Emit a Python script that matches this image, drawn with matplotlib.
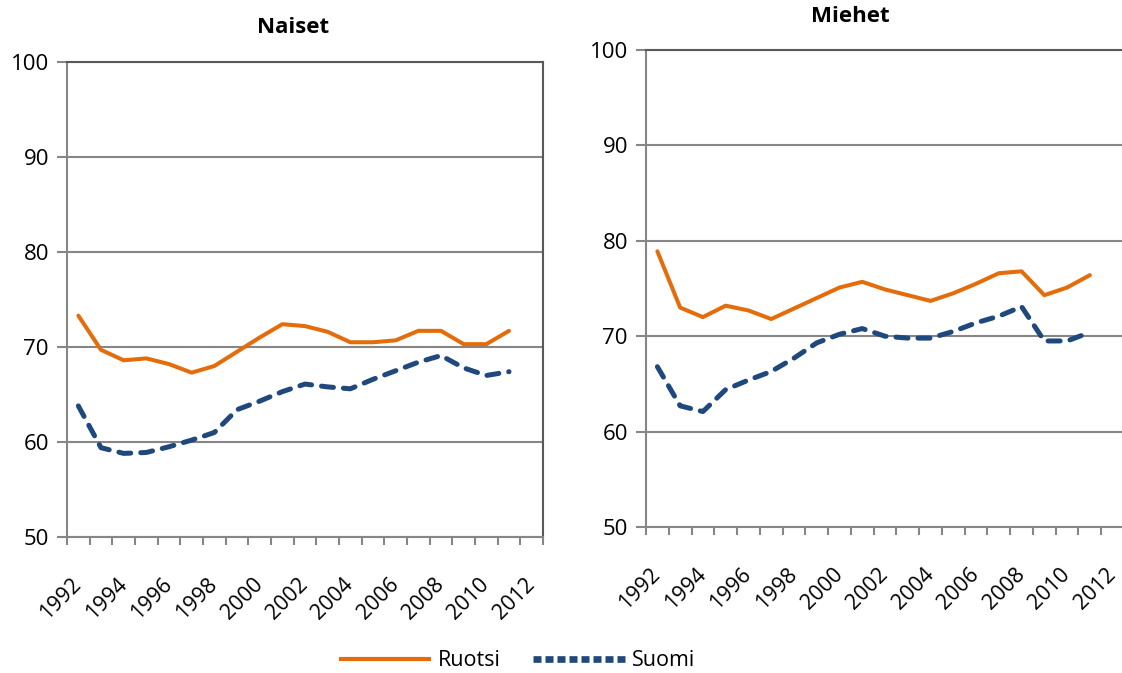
import matplotlib
matplotlib.use("Agg")
import matplotlib.pyplot as plt
from matplotlib.lines import Line2D
from matplotlib.transforms import ScaledTranslation

plt.rcParams["font.family"] = ["Open Sans", "DejaVu Sans"]

years = list(range(1992, 2012))
tick_years = list(range(1992, 2013, 2))

naiset_ruotsi = [73.3, 69.7, 68.6, 68.8, 68.2, 67.3, 68.0, 69.5, 71.0, 72.4,
                 72.2, 71.6, 70.5, 70.5, 70.7, 71.7, 71.7, 70.3, 70.3, 71.7]
naiset_suomi = [63.8, 59.4, 58.8, 58.9, 59.5, 60.2, 61.0, 63.4, 64.3, 65.3,
                66.1, 65.8, 65.6, 66.6, 67.5, 68.4, 69.1, 67.8, 67.0, 67.4]

miehet_ruotsi = [78.9, 73.0, 72.0, 73.2, 72.7, 71.8, 72.9, 74.0, 75.1, 75.7,
                 74.9, 74.3, 73.7, 74.5, 75.5, 76.6, 76.8, 74.3, 75.1, 76.4]
miehet_suomi = [66.8, 62.7, 62.1, 64.4, 65.4, 66.3, 67.7, 69.3, 70.2, 70.8,
                70.0, 69.8, 69.8, 70.5, 71.4, 72.1, 73.1, 69.5, 69.5, 70.4]

ORANGE = "#E46C0A"
BLUE = "#1F497D"
GRID = "#868686"
DARK = "#595959"
W, H = 1122, 673

fig = plt.figure(figsize=(W / 100, H / 100), dpi=100)
shift = ScaledTranslation(8 / 100, 0, fig.dpi_scale_trans)


def panel(box, ruotsi, suomi, right_spine):
    x0, y0, x1, y1 = box
    ax = fig.add_axes([x0 / W, 1 - y1 / H, (x1 - x0) / W, (y1 - y0) / H])
    ax.plot(years, ruotsi, color=ORANGE, lw=2.9, solid_capstyle="round",
            solid_joinstyle="round", zorder=3)
    ax.plot(years, suomi, color=BLUE, lw=3.6, linestyle=(0, (2.4, 2.0)),
            dash_capstyle="round", dash_joinstyle="round", zorder=3)
    ax.set_xlim(1991.5, 2012.5)
    ax.set_ylim(50, 100)
    ax.set_yticks(range(50, 101, 10))
    ax.yaxis.grid(True, color=GRID, lw=1.5)
    ax.set_axisbelow(True)
    # category borders get tick marks, every second category gets a label
    ax.set_xticks([y - 0.5 for y in range(1992, 2014)])
    ax.set_xticklabels([])
    ax.set_xticks(tick_years, minor=True)
    labels = ax.set_xticklabels([str(y) for y in tick_years], minor=True,
                                rotation=45, ha="right", va="center",
                                rotation_mode="anchor")
    for lab in labels:
        lab.set_transform(lab.get_transform() + shift)
    ax.tick_params(axis="x", which="major", length=6, width=1.5,
                   color=GRID, direction="out")
    ax.tick_params(axis="x", which="minor", length=0, pad=32, labelsize=15.5)
    ax.tick_params(axis="y", length=7, width=1.5, color=GRID, labelsize=16,
                   pad=6)
    for s in ("left", "bottom"):
        ax.spines[s].set_color(GRID)
        ax.spines[s].set_linewidth(1.5)
    ax.spines["top"].set_color(DARK)
    ax.spines["top"].set_linewidth(1.5)
    if right_spine:
        ax.spines["right"].set_color(DARK)
        ax.spines["right"].set_linewidth(1.5)
    else:
        ax.spines["right"].set_visible(False)
    return ax


panel((67, 62, 543, 537), naiset_ruotsi, naiset_suomi, True)
panel((646, 50, 1124, 527), miehet_ruotsi, miehet_suomi, False)

fig.text(293 / W, 1 - 33 / H, "Naiset", ha="center", va="baseline",
         fontsize=16, fontweight="bold")
fig.text(850 / W, 1 - 22 / H, "Miehet", ha="center", va="baseline",
         fontsize=16, fontweight="bold")

handles = [
    Line2D([], [], color=ORANGE, lw=3.0, solid_capstyle="butt"),
    Line2D([], [], color=BLUE, lw=4.8, linestyle=(0, (1.2, 0.6)),
           dash_capstyle="butt"),
]
fig.legend(handles, ["Ruotsi", "Suomi"], loc="center",
           bbox_to_anchor=(517 / W, 1 - 661 / H), ncol=2, frameon=False,
           fontsize=15.5, handlelength=4.3, handletextpad=0.3,
           columnspacing=1.5)

fig.savefig("out.png", dpi=100)
